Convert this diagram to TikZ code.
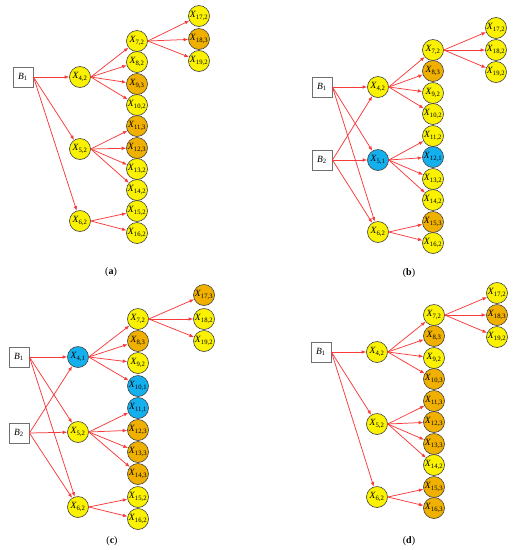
\documentclass[tikz,border=0pt]{standalone}
\usepackage{fontspec}
\setmainfont{Liberation Serif}
\usetikzlibrary{arrows.meta}
\definecolor{c1}{HTML}{14B0EE}
\definecolor{c2}{HTML}{FAF200}
\definecolor{c3}{HTML}{F0B000}
\definecolor{edgered}{HTML}{F83A3A}
\definecolor{boxgray}{HTML}{707070}
\tikzset{
  cn/.style={circle, draw=black!75, line width=0.6pt, minimum size=21pt, inner sep=0pt, font=\fontsize{9.5}{9.5}\selectfont},
  bx/.style={rectangle, draw=boxgray, line width=0.9pt, fill=white, minimum size=20pt, inner sep=0pt, font=\fontsize{9.5}{9.5}\selectfont},
  ed/.style={draw=edgered, line width=0.75pt, -{Latex[length=4.5pt,width=3.6pt]}},
  captxt/.style={font=\fontsize{10}{10}\selectfont}
}
\newcommand\cnode[5]{\node[cn, fill=c#5] (#1) at (#2,#3) {\textit{X}\textsubscript{#4,#5}};}
\begin{document}
\begin{tikzpicture}[x=1pt,y=-1pt]
\useasboundingbox (0,0) rectangle (515,550);
% ---------------- panel (a)
\node[bx] (aB1) at (23,77) {\textit{B}\textsubscript{1}};
\cnode{a4}{80}{77}{4}{2}
\cnode{a5}{80}{149}{5}{2}
\cnode{a6}{80}{221}{6}{2}
\foreach \i/\y/\s in {7/41/2,8/62/2,9/84/3,10/105/2,11/126/3,12/148/3,13/169/2,14/190/2,15/211/2,16/233/2}
  {\cnode{a\i}{137}{\y}{\i}{\s}}
\foreach \i/\y/\s in {17/16/2,18/39/3,19/61/2}
  {\cnode{a\i}{199}{\y}{\i}{\s}}
\node[captxt] (capa) at (111,272) {(\textbf{a})};
\foreach \j in {4,5,6} \draw[ed] (aB1.east) -- (a\j);
\foreach \j in {7,...,10} \draw[ed] (a4.east) -- (a\j);
\foreach \j in {11,...,14} \draw[ed] (a5.east) -- (a\j);
\foreach \j in {15,16} \draw[ed] (a6.east) -- (a\j);
\foreach \j in {17,18,19} \draw[ed] (a7.east) -- (a\j);
% ---------------- panel (b)
\node[bx] (bB1) at (322,87) {\textit{B}\textsubscript{1}};
\node[bx] (bB2) at (322,160) {\textit{B}\textsubscript{2}};
\cnode{b4}{378}{87}{4}{2}
\cnode{b5}{378}{160}{5}{1}
\cnode{b6}{378}{232}{6}{2}
\foreach \i/\y/\s in {7/50/2,8/71/3,9/93/2,10/114/2,11/136/2,12/157/1,13/179/2,14/200/2,15/222/3,16/243/2}
  {\cnode{b\i}{433}{\y}{\i}{\s}}
\foreach \i/\y/\s in {17/28/2,18/50/2,19/72/2}
  {\cnode{b\i}{496}{\y}{\i}{\s}}
\node[captxt] (capb) at (409,273) {(\textbf{b})};
\foreach \j in {4,5,6} {\draw[ed] (bB1.east) -- (b\j); \draw[ed] (bB2.east) -- (b\j);}
\foreach \j in {7,...,10} \draw[ed] (b4.east) -- (b\j);
\foreach \j in {11,...,14} \draw[ed] (b5.east) -- (b\j);
\foreach \j in {15,16} \draw[ed] (b6.east) -- (b\j);
\foreach \j in {17,18,19} \draw[ed] (b7.east) -- (b\j);
% ---------------- panel (c)
\node[bx] (cB1) at (19,357) {\textit{B}\textsubscript{1}};
\node[bx] (cB2) at (19,433) {\textit{B}\textsubscript{2}};
\cnode{c4}{78}{357}{4}{1}
\cnode{c5}{78}{432}{5}{2}
\cnode{c6}{78}{507}{6}{2}
\foreach \i/\y/\s in {7/319/2,8/341/3,9/363/2,10/386/1,11/408/1,12/430/3,13/452/3,14/474/3,15/497/2,16/519/2}
  {\cnode{c\i}{138}{\y}{\i}{\s}}
\foreach \i/\y/\s in {17/295/3,18/319/2,19/341/2}
  {\cnode{c\i}{204}{\y}{\i}{\s}}
\node[captxt] (capc) at (112,541) {(\textbf{c})};
\foreach \j in {4,5,6} {\draw[ed] (cB1.east) -- (c\j); \draw[ed] (cB2.east) -- (c\j);}
\foreach \j in {7,...,10} \draw[ed] (c4.east) -- (c\j);
\foreach \j in {11,...,14} \draw[ed] (c5.east) -- (c\j);
\foreach \j in {15,16} \draw[ed] (c6.east) -- (c\j);
\foreach \j in {17,18,19} \draw[ed] (c7.east) -- (c\j);
% ---------------- panel (d)
\node[bx] (dB1) at (321,352) {\textit{B}\textsubscript{1}};
\cnode{d4}{377}{352}{4}{2}
\cnode{d5}{377}{424}{5}{2}
\cnode{d6}{377}{497}{6}{2}
\foreach \i/\y/\s in {7/315/2,8/336/3,9/358/2,10/379/3,11/401/3,12/422/3,13/444/3,14/465/2,15/487/3,16/508/3}
  {\cnode{d\i}{434}{\y}{\i}{\s}}
\foreach \i/\y/\s in {17/293/2,18/315/3,19/337/2}
  {\cnode{d\i}{497}{\y}{\i}{\s}}
\node[captxt] (capd) at (409,541) {(\textbf{d})};
\foreach \j in {4,5,6} \draw[ed] (dB1.east) -- (d\j);
\foreach \j in {7,...,10} \draw[ed] (d4.east) -- (d\j);
\foreach \j in {11,...,14} \draw[ed] (d5.east) -- (d\j);
\foreach \j in {15,16} \draw[ed] (d6.east) -- (d\j);
\foreach \j in {17,18,19} \draw[ed] (d7.east) -- (d\j);
\end{tikzpicture}
\end{document}
